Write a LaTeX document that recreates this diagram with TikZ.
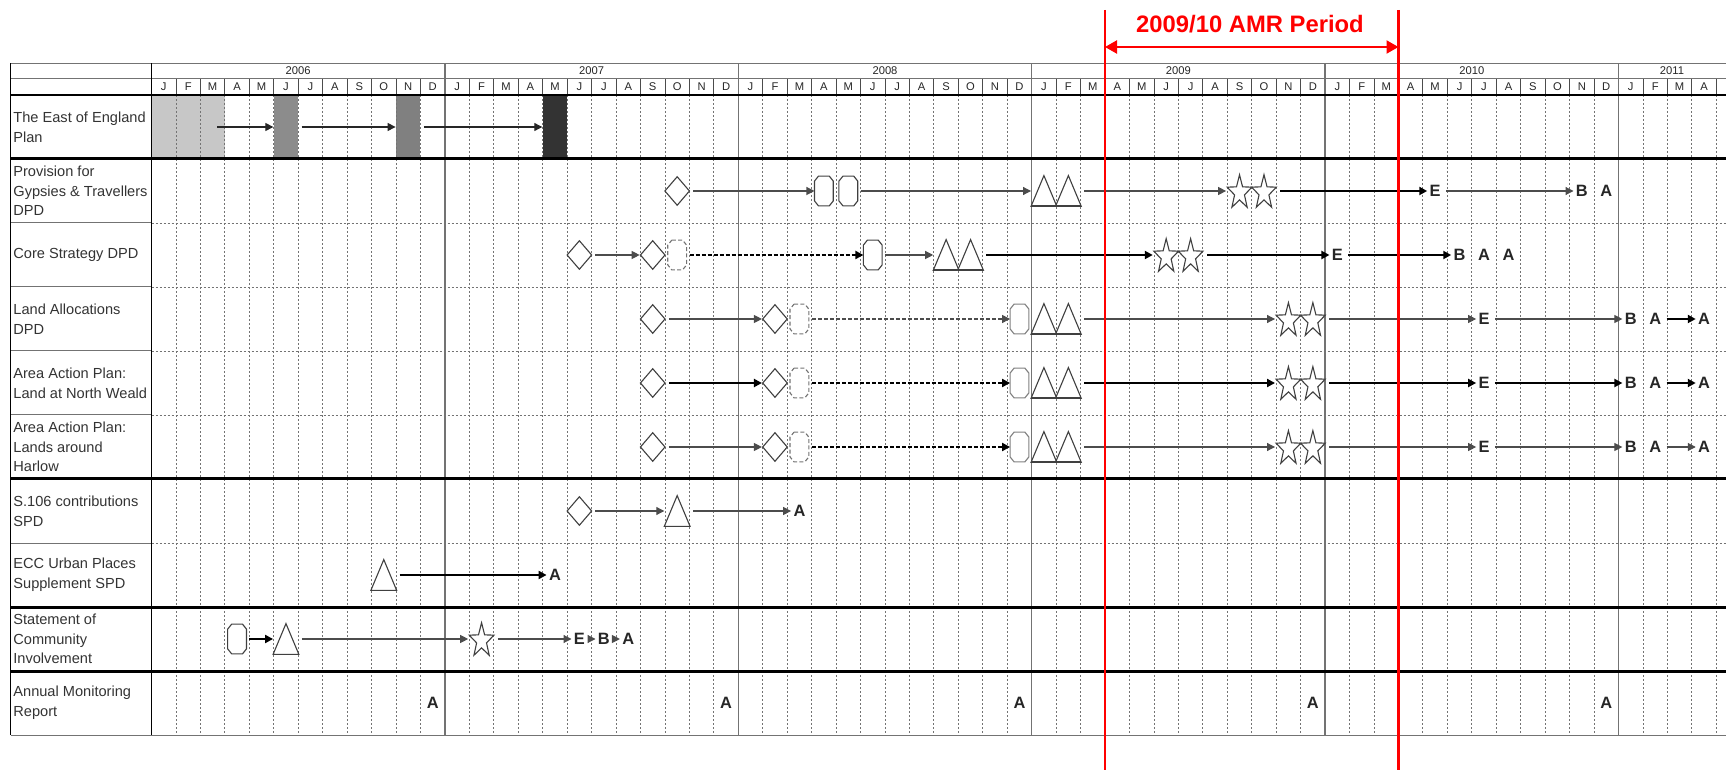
\documentclass[tikz,border=0pt]{standalone}
\usepackage{fontspec}
\setmainfont{Liberation Sans}
\usepackage{tikz}
\usetikzlibrary{arrows.meta,shapes.geometric}
\def\mx#1{163.725+24.45*#1}
\def\ry#1{127+64*#1}
\newcommand\trig[3]{\node[gbox] (#1) at ({\mx{#2}},{\ry{#3}}) {};
  \draw[glyph] (#1.north) -- (#1.south east) -- (#1.south west) -- cycle;
  \draw[glyph,line width=0.9pt] (#1.south west) -- (#1.south east);}
\newcommand\starg[3]{\node[sbox] (#1) at ({\mx{#2}},{\ry{#3}}) {};
  \draw[glyph,shift={(#1.center)},yshift=-0.85pt] (-90:13 and 18) -- (-54:5.2 and 7.2) -- (-18:13 and 18) -- (18:5.2 and 7.2) -- (54:13 and 18) -- (90:5.2 and 7.2) -- (126:13 and 18) -- (162:5.2 and 7.2) -- (198:13 and 18) -- (234:5.2 and 7.2) -- cycle;}
\newcommand\octg[4][glyph]{\node[obox] (#2) at ({\mx{#3}},{\ry{#4}}) {};
  \draw[#1] ([xshift=2pt]#2.north west) -- ([xshift=-2pt]#2.north east) -- ([yshift=-2.5pt]#2.north east) -- ([yshift=2.5pt]#2.south east) -- ([xshift=-2pt]#2.south east) -- ([xshift=2pt]#2.south west) -- ([yshift=2.5pt]#2.south west) -- ([yshift=-2.5pt]#2.north west) -- cycle;}
\tikzset{
  glyph/.style={draw=black!75,line width=0.55pt,fill=white},
  dglyph/.style={glyph,draw=black!55,dash pattern=on 2pt off 1.2pt},
  gglyph/.style={glyph,draw=black!50},
  diam/.style={glyph,diamond,inner sep=0pt,minimum width=12.5pt,minimum height=14.5pt},
  obox/.style={inner sep=0pt,minimum width=9pt,minimum height=14.5pt},
  gbox/.style={inner sep=0pt,minimum width=12.5pt,minimum height=15pt},
  sbox/.style={inner sep=0pt,minimum width=13pt,minimum height=15pt},
  ltr/.style={font=\fontsize{8.2}{8.2}\selectfont\bfseries,text=black!85,inner sep=1pt},
  ln/.style={draw=black!70,line width=0.55pt,-{Triangle[length=4pt,width=4pt]},shorten <=1.5pt},
  lnb/.style={ln,draw=black,line width=1.1pt},
  dln/.style={ln,dash pattern=on 2pt off 1pt},
  dlnb/.style={lnb,dash pattern=on 2pt off 1pt},
  blk/.style={inner sep=0pt,minimum width=12.225pt,minimum height=32pt},
  rowlab/.style={anchor=west,align=left,inner sep=0pt,font=\fontsize{7.3}{9.8}\selectfont,text=black!80},
  hdr/.style={inner sep=0pt,font=\fontsize{5.6}{6}\selectfont,text=black!85},
  dline/.style={black!55,line width=0.45pt,dash pattern=on 1pt off 1pt},
  gline/.style={black!55,line width=0.5pt},
  yline/.style={black!55,line width=0.75pt},
  thk/.style={black,line width=1.5pt},
  amr/.style={red,line width=1.3pt}
}
\begin{document}
\begin{tikzpicture}[x=0.5pt,y=-0.5pt]
\useasboundingbox (0,0) rectangle (1726,770);
\node[blk,fill=black!22,minimum width=36.675pt] (ea) at ({\mx{1}},{\ry{0}}) {};
\node[blk,fill=black!45] (eb) at ({\mx{5}},{\ry{0}}) {};
\node[blk,fill=black!50] (ec) at ({\mx{10}},{\ry{0}}) {};
\node[blk,fill=black!80] (ed) at ({\mx{16}},{\ry{0}}) {};
\foreach \m in {1,...,64} \draw[dline] ({151.5+24.45*\m},95) -- ({151.5+24.45*\m},735);
\foreach \m in {1,...,64} \draw[black!70,line width=0.45pt] ({151.5+24.45*\m},79) -- ({151.5+24.45*\m},95);
\foreach \k in {2,3,4,5,7} {\draw[gline] (10.5,{95+64*\k}) -- (151.5,{95+64*\k});
  \draw[dline] (151.5,{95+64*\k}) -- (1726,{95+64*\k});}
\foreach \i in {1,...,5} \draw[yline] ({151.5+293.4*\i},63.5) -- ({151.5+293.4*\i},735);
\draw[gline] (10.5,63.5) -- (1726,63.5) (10.5,79) -- (1726,79) (10.5,735) -- (1726,735);
\draw[black,line width=1pt] (10.5,95) -- (1726,95);
\foreach \k in {1,6,8,9} \draw[thk] (10.5,{95+64*\k}) -- (1726,{95+64*\k});
\draw[black,line width=0.7pt] (10.5,63.5) -- (10.5,735) (151.5,63.5) -- (151.5,735);
\foreach \y [count=\i from 0] in {2006,...,2010} \node[hdr] (y\i) at ({298.2+293.4*\i},71) {\y};
\node[hdr] (y5) at (1672,71) {2011};
\foreach \i in {0,...,5} \foreach \l [count=\j from 0] in {J,F,M,A,M,J,J,A,S,O,N,D} {
  \pgfmathtruncatemacro\mm{12*\i+\j}
  \ifnum\mm<64 \node[hdr] (m\mm) at ({\mx{\mm}},87) {\l}; \fi}
\node[rowlab] (l0) at (13,{\ry{0}}) {The East of England\\Plan};
\node[rowlab] (l1) at (13,{\ry{1}}) {Provision for\\Gypsies \& Travellers\\DPD};
\node[rowlab] (l2) at (13,{\ry{2}}) {Core Strategy DPD};
\node[rowlab] (l3) at (13,{\ry{3}}) {Land Allocations\\DPD};
\node[rowlab] (l4) at (13,{\ry{4}}) {Area Action Plan:\\Land at North Weald};
\node[rowlab] (l5) at (13,{\ry{5}}) {Area Action Plan:\\Lands around\\Harlow};
\node[rowlab] (l6) at (13,{\ry{6}}) {S.106 contributions\\SPD};
\node[rowlab] (l7) at (13,{\ry{7}}) {ECC Urban Places\\Supplement SPD};
\node[rowlab] (l8) at (13,{\ry{8}}) {Statement of\\Community\\Involvement};
\node[rowlab] (l9) at (13,{\ry{9}}) {Annual Monitoring\\Report};
\coordinate (e0) at (214,{\ry{0}});
\draw[ln,draw=black!85] (e0) -- (eb);
\draw[ln,draw=black!85] (eb) -- (ec);
\draw[ln,draw=black!85] (ec) -- (ed);
\node[diam] (pd) at ({\mx{21}},{\ry{1}}) {};
\octg{po1}{27}{1} \octg{po2}{28}{1}
\trig{pt1}{36}{1} \trig{pt2}{37}{1}
\starg{ps1}{44}{1} \starg{ps2}{45}{1}
\node[ltr] (pE) at ({\mx{52}},{\ry{1}}) {E};
\node[ltr] (pB) at ({\mx{58}},{\ry{1}}) {B};
\node[ltr] (pA) at ({\mx{59}},{\ry{1}}) {A};
\draw[ln] (pd) -- (po1);
\draw[ln] (po2) -- (pt1);
\draw[ln] (pt2) -- (ps1);
\draw[lnb] (ps2) -- (pE);
\draw[ln] (pE) -- (pB);
\node[diam] (cd1) at ({\mx{17}},{\ry{2}}) {};
\node[diam] (cd2) at ({\mx{20}},{\ry{2}}) {};
\octg[dglyph]{co1}{21}{2} \octg{co2}{29}{2}
\trig{ct1}{32}{2} \trig{ct2}{33}{2}
\starg{cs1}{41}{2} \starg{cs2}{42}{2}
\node[ltr] (cE) at ({\mx{48}},{\ry{2}}) {E};
\node[ltr] (cB) at ({\mx{53}},{\ry{2}}) {B};
\node[ltr] (cA1) at ({\mx{54}},{\ry{2}}) {A};
\node[ltr] (cA2) at ({\mx{55}},{\ry{2}}) {A};
\draw[ln] (cd1) -- (cd2);
\draw[dlnb] (co1) -- (co2);
\draw[ln] (co2) -- (ct1);
\draw[lnb] (ct2) -- (cs1);
\draw[lnb] (cs2) -- (cE);
\draw[lnb] (cE) -- (cB);
\foreach \r/\n in {3/a,4/n,5/h}{
  \node[diam] (\n d1) at ({\mx{20}},{\ry{\r}}) {};
  \node[diam] (\n d2) at ({\mx{25}},{\ry{\r}}) {};
  \octg[dglyph]{\n o1}{26}{\r} \octg[gglyph]{\n o2}{35}{\r}
  \trig{\n t1}{36}{\r} \trig{\n t2}{37}{\r}
  \starg{\n s1}{46}{\r} \starg{\n s2}{47}{\r}
  \node[ltr] (\n E) at ({\mx{54}},{\ry{\r}}) {E};
  \node[ltr] (\n B) at ({\mx{60}},{\ry{\r}}) {B};
  \node[ltr] (\n A1) at ({\mx{61}},{\ry{\r}}) {A};
  \node[ltr] (\n A2) at ({\mx{63}},{\ry{\r}}) {A};
}
\draw[ln] (ad1) -- (ad2);
\draw[dln] (ao1) -- (ao2);
\draw[ln] (at2) -- (as1);
\draw[ln] (as2) -- (aE);
\draw[ln] (aE) -- (aB);
\draw[lnb] (aA1) -- (aA2);
\draw[lnb] (nd1) -- (nd2);
\draw[dlnb] (no1) -- (no2);
\draw[lnb] (nt2) -- (ns1);
\draw[lnb] (ns2) -- (nE);
\draw[lnb] (nE) -- (nB);
\draw[lnb] (nA1) -- (nA2);
\draw[ln] (hd1) -- (hd2);
\draw[dlnb] (ho1) -- (ho2);
\draw[ln] (ht2) -- (hs1);
\draw[ln] (hs2) -- (hE);
\draw[ln] (hE) -- (hB);
\draw[ln] (hA1) -- (hA2);
\node[diam] (sd) at ({\mx{17}},{\ry{6}}) {};
\trig{st}{21}{6}
\node[ltr] (sA) at ({\mx{26}},{\ry{6}}) {A};
\draw[ln] (sd) -- (st);
\draw[ln] (st) -- (sA);
\trig{ut}{9}{7}
\node[ltr] (uA) at ({\mx{16}},{\ry{7}}) {A};
\draw[lnb] (ut) -- (uA);
\octg{io}{3}{8}
\trig{it}{5}{8}
\starg{is}{13}{8}
\node[ltr] (iE) at ({\mx{17}},{\ry{8}}) {E};
\node[ltr] (iB) at ({\mx{18}},{\ry{8}}) {B};
\node[ltr] (iA) at ({\mx{19}},{\ry{8}}) {A};
\draw[lnb] (io) -- (it);
\draw[ln] (it) -- (is);
\draw[ln] (is) -- (iE);
\draw[ln] (iE) -- (iB);
\draw[ln] (iB) -- (iA);
\foreach \m [count=\i] in {11,23,35,47,59} \node[ltr] (r\i) at ({\mx{\m}},{\ry{9}}) {A};
\coordinate (amrl) at (1105,10);
\coordinate (amrlb) at (1105,770);
\coordinate (amrr) at (1398.5,10);
\coordinate (amrrb) at (1398.5,770);
\coordinate (amrpl) at (1105,47);
\coordinate (amrpr) at (1398.5,47);
\draw[amr] (amrl) -- (amrlb) (amrr) -- (amrrb);
\draw[red,line width=1.1pt,{Triangle[length=6pt,width=6.5pt]}-{Triangle[length=6pt,width=6.5pt]}] (amrpl) -- (amrpr);
\node[text=red,font=\fontsize{11.9}{12}\selectfont\bfseries] (amrt) at (1250,24) {2009/10 AMR Period};
\end{tikzpicture}
\end{document}
